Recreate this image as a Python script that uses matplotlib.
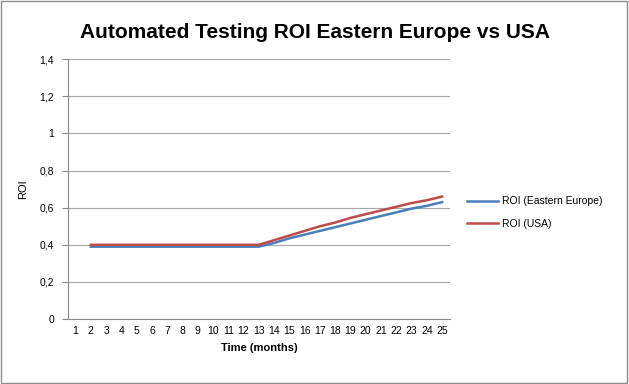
import matplotlib

matplotlib.use("Agg")
import matplotlib.pyplot as plt
from matplotlib.patches import Rectangle

months = list(range(1, 26))
# values start at month 2
months_data = list(range(2, 26))
roi_ee = [0.39] * 12 + [0.41, 0.435, 0.455, 0.475, 0.495, 0.515, 0.535, 0.555, 0.575, 0.595, 0.61, 0.63]
roi_usa = [0.40] * 12 + [0.425, 0.45, 0.475, 0.50, 0.52, 0.545, 0.565, 0.585, 0.605, 0.625, 0.64, 0.66]
y_ticks = [0, 0.2, 0.4, 0.6, 0.8, 1.0, 1.2, 1.4]
y_labels = ["0", "0,2", "0,4", "0,6", "0,8", "1", "1,2", "1,4"]

plt.rcParams["font.family"] = ["Liberation Sans", "DejaVu Sans"]

fig = plt.figure(figsize=(6.29, 3.84), dpi=100)
fig.patches.append(Rectangle((0.002, 0.003), 0.995, 0.994, transform=fig.transFigure,
                             fill=False, edgecolor="#8c8c8c", lw=1.0))
ax = fig.add_axes([0.108, 0.169, 0.607, 0.677])

ax.plot(months_data, roi_ee, color="#4a7ebb", lw=1.8, label="ROI (Eastern Europe)")
ax.plot(months_data, roi_usa, color="#be4b48", lw=1.8, label="ROI (USA)")

ax.set_xlim(0.5, 25.5)
ax.set_ylim(0, 1.4)
ax.set_xticks(months)
ax.set_xticklabels([str(m) for m in months], fontsize=7.5)
ax.set_yticks(y_ticks)
ax.set_yticklabels(y_labels, fontsize=7.5)
ax.tick_params(axis="x", length=0, pad=5)
ax.tick_params(axis="y", direction="out", length=4, color="#888888", pad=6)
ax.grid(axis="y", color="#a6a6a6", lw=0.8)
ax.set_axisbelow(True)
for s in ("top", "right"):
    ax.spines[s].set_visible(False)
for s in ("left", "bottom"):
    ax.spines[s].set_color("#888888")

ax.set_ylabel("ROI", fontsize=8, labelpad=8)
ax.set_xlabel("Time (months)", fontsize=8, fontweight="bold", labelpad=5)
fig.suptitle("Automated Testing ROI Eastern Europe vs USA", fontsize=15, fontweight="bold", y=0.94)

ax.legend(loc="center left", bbox_to_anchor=(1.02, 0.41), frameon=False, fontsize=7.5,
          handlelength=3.0, labelspacing=1.2, handletextpad=0.4)

fig.savefig("out.png", dpi=100)
